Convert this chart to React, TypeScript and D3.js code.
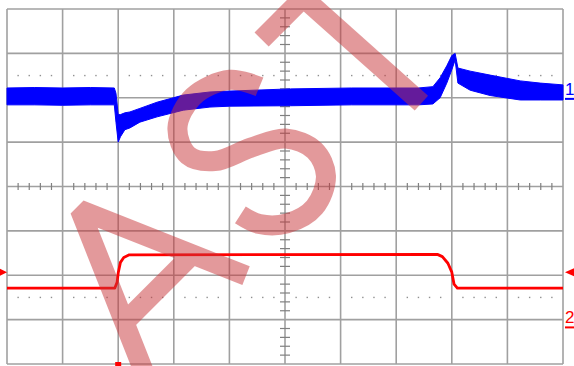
import React from "react";
import * as d3 from "d3";

const W = 574;
const H = 366;

// screen divisions
const xDivisions = d3.range(0, 11);
const yDivisions = d3.range(-4, 5);
const dottedRows = [2.5, -2.5];

// Channel 1 (blue, noisy): time in divisions, upper/lower envelope in divisions
const ch1Time = [0, 0.5, 1.0, 1.5, 1.93, 1.96, 2.0, 2.04, 2.12, 2.21, 2.39, 2.7, 3.17, 3.65, 4.0, 5.1, 6.2, 7.4, 7.66, 7.79, 7.91, 8.0, 8.06, 8.11, 8.33, 8.69, 9.23, 9.59, 10];
const ch1Upper = [2.22, 2.23, 2.22, 2.23, 2.22, 2.1, 1.62, 1.62, 1.66, 1.68, 1.76, 1.9, 2.06, 2.13, 2.15, 2.2, 2.22, 2.22, 2.25, 2.45, 2.72, 2.95, 3.0, 2.67, 2.6, 2.51, 2.38, 2.33, 2.29];
const ch1Lower = [1.84, 1.84, 1.83, 1.84, 1.84, 1.45, 1.0, 1.12, 1.28, 1.32, 1.45, 1.57, 1.72, 1.79, 1.81, 1.82, 1.84, 1.84, 1.86, 2.0, 2.33, 2.63, 2.85, 2.33, 2.17, 2.05, 1.95, 1.95, 1.95];

// Channel 2 (red)
const ch2Time = [0, 1.94, 1.98, 2.0, 2.04, 2.1, 2.2, 7.74, 7.83, 7.93, 8.0, 8.04, 8.1, 10];
const ch2Level = [-2.29, -2.29, -2.16, -1.95, -1.71, -1.6, -1.54, -1.53, -1.58, -1.73, -1.93, -2.2, -2.29, -2.29];

const channelLabels = ["1", "2"];
const channelLabelLevels = [2.2, -2.95];
const channelColors = ["#0000ff", "#ff0000"];
const triggerLevel = -1.93;
const triggerTime = 2.0;

export default function App() {
  const x = d3.scaleLinear().domain([0, 10]).range([7, 563]);
  const y = d3.scaleLinear().domain([-4, 4]).range([364, 9]);

  const area = d3
    .area<number>()
    .x((_, i) => x(ch1Time[i]))
    .y0((_, i) => y(ch1Lower[i]))
    .y1((_, i) => y(ch1Upper[i]));
  const line = d3
    .line<number>()
    .x((_, i) => x(ch2Time[i]))
    .y((d) => y(d));

  const minorX = d3.range(0, 10.001, 0.2).filter((v) => Math.abs(v - Math.round(v)) > 0.01);
  const minorY = d3.range(-4, 4.001, 0.2).filter((v) => Math.abs(v - Math.round(v)) > 0.01);

  const sPts: [number, number][] = [
    [214, 37], [198, 11], [160, -3], [127, 8], [115, 35], [130, 58], [165, 74],
    [196, 92], [208, 121], [198, 147], [168, 161], [137, 153], [117, 134], [110, 114],
  ];
  const sPath = d3.line().curve(d3.curveCatmullRom.alpha(0.5))(sPts) || "";

  const gridColor = "#a0a0a0";
  const cx = x(5);
  const cy = y(0);

  return (
    <svg
      width={W}
      height={H}
      style={{ position: "absolute", left: 0, top: 0, background: "#fff" }}
    >
      <rect x={0} y={0} width={W} height={H} fill="#fff" />
      {/* grid */}
      {xDivisions.map((d) => (
        <line key={"vx" + d} x1={x(d)} x2={x(d)} y1={y(4)} y2={y(-4)} stroke={gridColor} strokeWidth={1.6} />
      ))}
      {yDivisions.map((d) => (
        <line key={"hy" + d} x1={x(0)} x2={x(10)} y1={y(d)} y2={y(d)} stroke={gridColor} strokeWidth={1.6} />
      ))}
      {/* minor ticks on center axes */}
      {minorX.map((v) => (
        <line key={"tx" + v} x1={x(v)} x2={x(v)} y1={cy - 3.5} y2={cy + 3.5} stroke="#808080" strokeWidth={1.2} />
      ))}
      {minorY.map((v) => (
        <line key={"ty" + v} x1={cx - 5} x2={cx + 5} y1={y(v)} y2={y(v)} stroke="#808080" strokeWidth={1.2} />
      ))}
      {/* dotted rows */}
      {dottedRows.map((r) =>
        minorX.map((v) => (
          <rect key={"d" + r + "_" + v} x={x(v) - 0.7} y={y(r) - 0.7} width={1.4} height={1.4} fill="#909090" />
        ))
      )}

      {/* traces */}
      <path d={area(ch1Time) || ""} fill={channelColors[0]} stroke={channelColors[0]} strokeWidth={1} />
      <path d={line(ch2Level) || ""} fill="none" stroke={channelColors[1]} strokeWidth={2.8} strokeLinejoin="round" />

      {/* markers */}
      {channelLabels.map((lab, i) => (
        <g key={"lab" + lab}>
          <text
            x={565}
            y={y(channelLabelLevels[i]) + 6}
            fontFamily="Liberation Sans, Arial, sans-serif"
            fontSize={17}
            fill={channelColors[i]}
          >
            {lab}
          </text>
          <line x1={565} x2={574} y1={y(channelLabelLevels[i]) + 10} y2={y(channelLabelLevels[i]) + 10} stroke={channelColors[i]} strokeWidth={2} />
        </g>
      ))}
      <polygon
        points={`0,${y(triggerLevel) - 3.5} 7,${y(triggerLevel)} 0,${y(triggerLevel) + 3.5}`}
        fill="#ff0000"
      />
      <polygon
        points={`574,${y(triggerLevel) - 4} 565,${y(triggerLevel)} 574,${y(triggerLevel) + 4}`}
        fill="#ff0000"
      />
      <rect x={x(triggerTime) - 3} y={362} width={6} height={4} fill="#ff0000" />

      {/* watermark */}
      <g
        transform="translate(82,212) rotate(-45)"
        opacity={0.5}
        fill="none"
        stroke="rgb(200,54,58)"
        strokeWidth={20}
      >
        <path d="M -71 161 L 0 -3 L 71 161" strokeLinejoin="bevel" />
        <path d="M -48 108 L 48 108" />
        <path d={sPath} />
        <path d="M 249 5 L 373 5" />
        <path d="M 308 5 L 317 163" />
      </g>
    </svg>
  );
}
